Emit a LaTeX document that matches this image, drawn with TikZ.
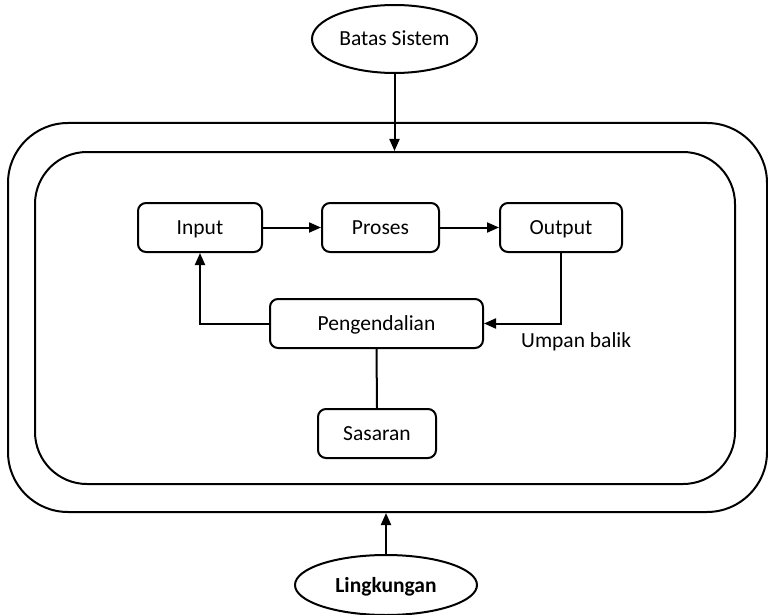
\documentclass[tikz,border=0pt]{standalone}
\usepackage{fontspec}
\setmainfont{Carlito}
\usetikzlibrary{arrows.meta,shapes.geometric}
\begin{document}
\begin{tikzpicture}[x=1pt,y=-1pt,
  every node/.style={font=\fontsize{21.5}{25}\selectfont, inner sep=0pt},
  ln/.style={line width=2pt, black},
  arr/.style={ln, -{Triangle[length=12pt,width=10pt]}},
  lbl/.style={text height=15pt, text depth=1pt},
  box/.style={draw, ln, lbl, rounded corners=8pt, minimum height=49pt},
  oval/.style={draw, ln, lbl, ellipse, minimum width=165pt, minimum height=68pt},
  frame/.style={draw, ln, rectangle}
]
\useasboundingbox (0,0) rectangle (768,615);
\node[frame, rounded corners=60pt, minimum width=759pt, minimum height=389pt] (outer) at (387.5,317.5) {};
\node[frame, rounded corners=52pt, minimum width=700pt, minimum height=332pt] (inner) at (385,318) {};
\node[oval] (batas) at (394.5,39) {Batas Sistem};
\node[oval, minimum width=182pt, minimum height=60pt, font=\fontsize{21.5}{25}\selectfont\bfseries] (ling) at (386,585) {Lingkungan};
\node[box, minimum width=124pt] (input) at (200,227.5) {Input};
\node[box, minimum width=117pt] (proses) at (380.5,227.5) {Proses};
\node[box, minimum width=122pt] (output) at (561,227.5) {Output};
\node[box, minimum width=213pt] (peng) at (376.5,323.5) {Pengendalian};
\node[box, minimum width=118pt] (sasaran) at (377,433.5) {Sasaran};
\node[anchor=base west] (umpan) at (521,347) {Umpan balik};
\draw[arr] (batas) -- (batas |- inner.north);
\draw[arr] (ling) -- (ling |- outer.south);
\draw[arr] (input) -- (proses);
\draw[arr] (proses) -- (output);
\draw[arr] (output.south) |- (peng.east);
\draw[arr] (peng.west) -| (input.south);
\draw[ln] (peng.south) -- (sasaran.north);
\end{tikzpicture}
\end{document}
